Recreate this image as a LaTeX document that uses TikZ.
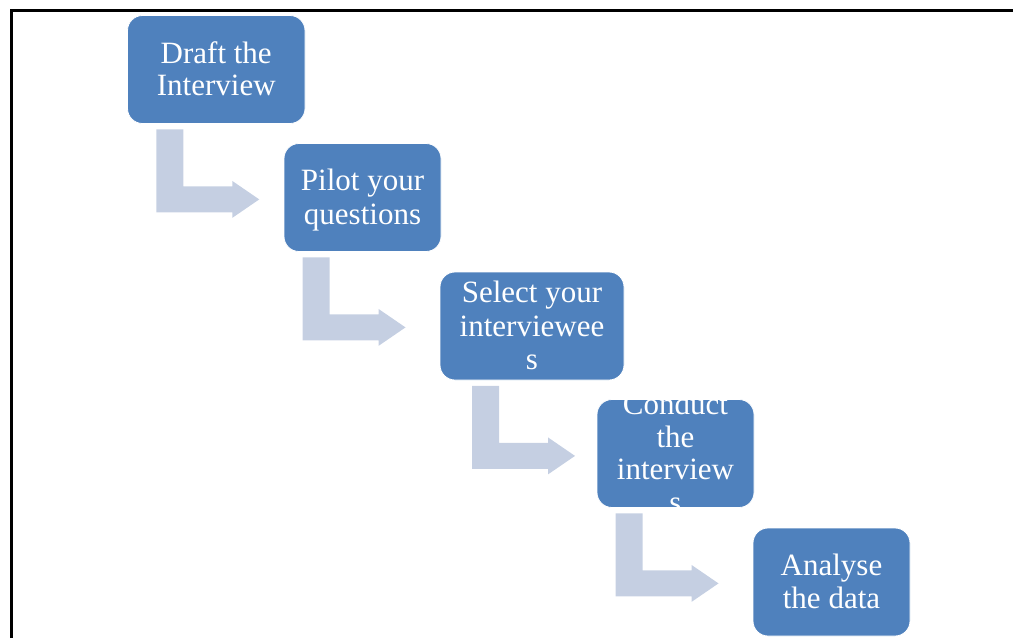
\documentclass[tikz,border=0pt]{standalone}
\usepackage{fontspec}
\setmainfont{Liberation Serif}
\definecolor{boxblue}{RGB}{79,129,189}
\definecolor{arrowblue}{RGB}{197,207,226}
% same height and depth on every text line, so lines sit evenly in the boxes
\newcommand\linestrut{\rule[-6pt]{0pt}{32pt}}
\tikzset{
  stepbox/.style={fill=boxblue, draw=white, line width=0.8pt, rounded corners=15pt,
    minimum height=108pt, inner sep=0pt},
  steptext/.style={text=white, align=center, inner sep=0pt,
    font=\fontsize{31}{32.5}\selectfont},
  pageframe/.style={line width=3pt, line join=miter},
  % bent block arrow hanging below a box, pointing right to the next step
  bentarrow/.pic={
    \fill[arrowblue] (-60,5.5) -- ++(27,0) -- ++(0,57) -- ++(49,0) -- ++(0,-5.5)
      -- ++(27,18.5) -- ++(-27,18.5) -- ++(0,-5.5) -- ++(-76,0) -- cycle;
  }
}
\begin{document}
\begin{tikzpicture}[x=1pt, y=-1pt]
\useasboundingbox (0,0) rectangle (1013,638);

% frame along the top and left edges
\draw[pageframe] (11.5,638) -- (11.5,10.3) -- (1013,10.3);

% the five steps
\node[stepbox, minimum width=177.5pt] (b1) at (216.25,69.5) {};
\node[stepbox, minimum width=157pt]   (b2) at (362.5,197.5) {};
\node[stepbox, minimum width=184pt]   (b3) at (532,326) {};
\node[stepbox, minimum width=157pt]   (b4) at (675.5,453.5) {};
\node[stepbox, minimum width=157pt]   (b5) at (831.5,582) {};

% arrows from each step down to the next
\pic at (b1.south) {bentarrow};
\pic at (b2.south) {bentarrow};
\pic at (b3.south) {bentarrow};
\pic at (b4.south) {bentarrow};

% labels
\node[steptext] (t1) at (b1.center) {\linestrut Draft the\\\linestrut Interview};
\node[steptext] (t2) at (b2.center) {\linestrut Pilot your\\\linestrut questions};
\node[steptext] (t3) at (b3.center) {\linestrut Select your\\\linestrut interviewee\\\linestrut s};
\node[steptext] (t4) at (b4.center) {\linestrut Conduct\\\linestrut the\\\linestrut interview\\\linestrut s};
\node[steptext] (t5) at (b5.center) {\linestrut Analyse\\\linestrut the data};
\end{tikzpicture}
\end{document}
